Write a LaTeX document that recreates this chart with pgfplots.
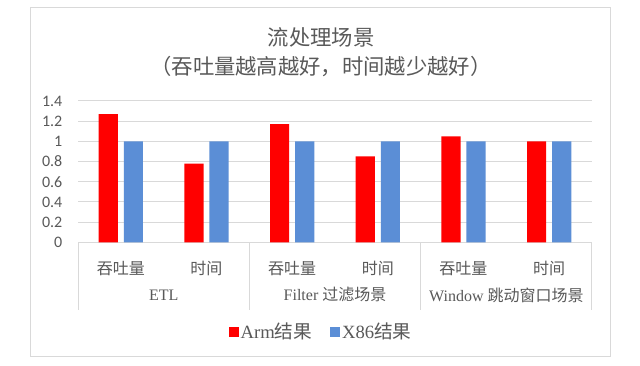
\documentclass[border=0pt]{standalone}
\usepackage{pgfplots}
\pgfplotsset{compat=1.18}
\usepackage{fontspec}
\setmainfont{Liberation Serif}
\newfontfamily\cjk{Noto Sans CJK SC}
\newfontfamily\calibri{Carlito}
\definecolor{armred}{HTML}{FF0000}
\definecolor{x86blue}{HTML}{5B8ED6}
\definecolor{txt}{HTML}{595959}
\definecolor{gridc}{HTML}{D9D9D9}
\begin{document}
\begin{tikzpicture}
\fill[white] (0pt,0pt) rectangle (480pt,274.5pt);
\draw[gridc, line width=0.75pt] (23pt,7pt) rectangle (457.5pt,268.5pt);
\node[text=txt, font=\cjk\fontsize{16}{19}\selectfont] at (240.75pt,246.75pt) {流处理场景};
\node[text=txt, font=\cjk\fontsize{16}{19}\selectfont] at (240.75pt,224.25pt) {（吞吐量越高越好，时间越少越好）};
\begin{axis}[
  at={(58.5pt,92.8pt)}, anchor=south west,
  scale only axis, width=385.5pt, height=106pt,
  xmin=-0.5, xmax=5.5, ymin=0, ymax=1.4,
  ybar,
  xtick={0,1,2,3,4,5},
  xticklabels={吞吐量,时间,吞吐量,时间,吞吐量,时间},
  xticklabel style={font=\cjk\fontsize{12}{14}\selectfont, text=txt, anchor=center, yshift=-15.5pt},
  ytick={0,0.2,0.4,0.6,0.8,1,1.2,1.4},
  yticklabels={0,0.2,0.4,0.6,0.8,1,1.2,1.4},
  yticklabel style={font=\calibri\fontsize{12}{14}\selectfont, text=txt, anchor=east, inner sep=0pt, xshift=-11.6pt},
  axis line style={draw=none},
  tick style={draw=none},
  ymajorgrids, major grid style={gridc, line width=0.75pt},
  clip=false,
  legend columns=2,
  legend style={at={(0.473,-0.633)}, anchor=center, draw=none, fill=none,
    font=\fontsize{14}{16}\selectfont, text=txt,
    /tikz/every even column/.append style={column sep=12pt},
    nodes={inner sep=1.5pt}},
  legend image code/.code={\draw[#1,/tikz/.cd,draw=none] (0pt,-3.75pt) rectangle (7.5pt,3.75pt);},
]
\addplot[fill=armred, draw=none, bar width=14.4pt, bar shift=-9.4pt] coordinates {(0,1.27) (1,0.78) (2,1.17) (3,0.85) (4,1.05) (5,1.0)};
\addplot[fill=x86blue, draw=none, bar width=14.4pt, bar shift=9.4pt] coordinates {(0,1.0) (1,1.0) (2,1.0) (3,1.0) (4,1.0) (5,1.0)};
\legend{Arm{\cjk 结果}, X86{\cjk 结果}}
\draw[gridc, line width=0.75pt] (axis cs:-0.5,0) -- ++(0pt,-50.8pt);
\draw[gridc, line width=0.75pt] (axis cs:1.5,0) -- ++(0pt,-50.8pt);
\draw[gridc, line width=0.75pt] (axis cs:3.5,0) -- ++(0pt,-50.8pt);
\draw[gridc, line width=0.75pt] (axis cs:5.5,0) -- ++(0pt,-50.8pt);
\node[text=txt, font=\fontsize{12}{14}\selectfont] at ([yshift=-39.5pt]axis cs:0.5,0) {ETL};
\node[text=txt, font=\fontsize{12}{14}\selectfont] at ([yshift=-39.5pt]axis cs:2.5,0) {Filter {\cjk 过滤场景}};
\node[text=txt, font=\fontsize{12}{14}\selectfont] at ([yshift=-39.5pt]axis cs:4.5,0) {Window {\cjk 跳动窗口场景}};
\end{axis}
\end{tikzpicture}
\end{document}
